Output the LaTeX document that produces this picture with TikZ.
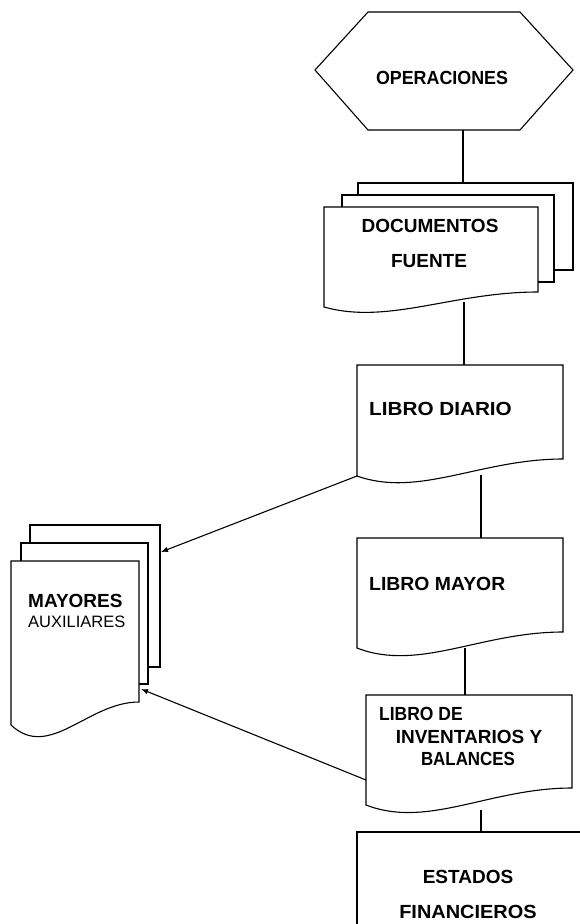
\documentclass[tikz,border=0pt]{standalone}
\usepackage{fontspec}
\setmainfont{Liberation Sans}
\usetikzlibrary{arrows.meta}

% Flowchart "document" outline: left x, top y, right x, right-bottom y, left-bottom y, dip of the wavy edge
\newcommand\docoutline[6]{%
  \draw[outline] (#1,#2) -- (#3,#2) -- (#3,#4)
    .. controls ({#1+0.6*(#3-#1)},#4) and ({#1+0.3*(#3-#1)},{#5+#6}) .. (#1,#5) -- cycle;}
% horizontally stretched label text
\newcommand\wide[2]{\scalebox{#1}[1]{#2}}

\begin{document}
\begin{tikzpicture}[x=1pt,y=-1pt,
  outline/.style={draw=black, line width=1.1pt, fill=white, line join=miter},
  sheet/.style={outline},
  lbl/.style={font=\bfseries\fontsize{19}{22}\selectfont, inner sep=0pt},
  lblthin/.style={font=\fontsize{16.5}{20}\selectfont, inner sep=0pt},
  link/.style={draw=black, line width=1.1pt},
  feed/.style={link, -{Latex[length=7pt,width=5.5pt]}}]

\useasboundingbox (0,0) rectangle (579,924);

% ---- OPERACIONES (hexagon)
\draw[outline] (368,12) -- (520,12) -- (573,70) -- (520,130) -- (368,130) -- (315,70) -- cycle;
\node[lbl] (operaciones) at (442,78) {\wide{0.94}{OPERACIONES}};
\coordinate (op-s) at (463,130);

% ---- DOCUMENTOS FUENTE (stack of documents)
\draw[sheet] (358,183) rectangle (573,270);
\draw[sheet] (342,195) rectangle (554,282);
\docoutline{324}{207}{538}{292}{307}{18}
\node[lbl] (documentos) at (430,226) {DOCUMENTOS};
\node[lbl] (fuente) at (429,261) {FUENTE};
\coordinate (docs-n) at (463,183);
\coordinate (docs-s) at (464,302);

% ---- LIBRO DIARIO
\docoutline{357}{365}{563}{459}{476}{22}
\node[lbl, anchor=west] (diario) at (369,409) {\wide{1.09}{LIBRO DIARIO}};
\coordinate (diario-n) at (464,365);
\coordinate (diario-s) at (481,475);
\coordinate (diario-sw) at (357,476);

% ---- LIBRO MAYOR
\docoutline{357}{538}{563}{632}{648}{24}
\node[lbl, anchor=west] (mayor) at (369,584) {\wide{1.02}{LIBRO MAYOR}};
\coordinate (mayor-n) at (481,538);
\coordinate (mayor-s) at (465,648);

% ---- LIBRO DE INVENTARIOS Y BALANCES
\docoutline{366}{695}{572}{788}{805}{24}
\node[lbl, anchor=west] (inv1) at (379,714) {\wide{0.92}{LIBRO DE}};
\node[lbl] (inv2) at (469,737) {INVENTARIOS Y};
\node[lbl] (inv3) at (468,759) {\wide{0.89}{BALANCES}};
\coordinate (inv-n) at (465,695);
\coordinate (inv-s) at (481,810);
\coordinate (inv-w) at (366,780);

% ---- ESTADOS FINANCIEROS
\draw[outline] (357,832) rectangle (590,940);
\node[lbl] (estados) at (468,877) {ESTADOS};
\node[lbl] (financieros) at (468,912) {\wide{1.05}{FINANCIEROS}};
\coordinate (est-n) at (481,832);

% ---- MAYORES AUXILIARES (stack of documents)
\draw[sheet] (30,525) rectangle (160,667);
\draw[sheet] (21,543) rectangle (148,684);
\docoutline{11}{561}{139}{702}{725}{36}
\node[lbl, anchor=west] (mayores) at (28,601) {MAYORES};
\node[lblthin, anchor=west] (auxiliares) at (28,622) {AUXILIARES};
\coordinate (aux-e1) at (161,552);
\coordinate (aux-e2) at (141,689);

% ---- connectors
\draw[link] (op-s) -- (docs-n);
\draw[link] (docs-s) -- (diario-n);
\draw[link] (diario-s) -- (mayor-n);
\draw[link] (mayor-s) -- (inv-n);
\draw[link] (inv-s) -- (est-n);
\draw[feed] (diario-sw) -- (aux-e1);
\draw[feed] (inv-w) -- (aux-e2);
\end{tikzpicture}
\end{document}
